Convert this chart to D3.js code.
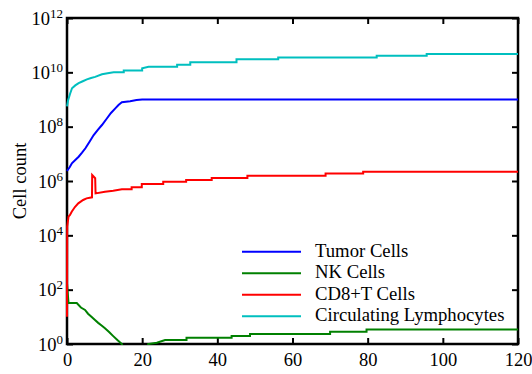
<!DOCTYPE html>
<html>
<head>
<meta charset="utf-8">
<script src="https://cdn.jsdelivr.net/npm/d3@7"></script>
<style>
  body { margin: 0; background: #fff; }
  svg text { font-family: "Liberation Serif", "Times New Roman", serif; fill: #000; }
</style>
</head>
<body>
<svg id="chart" width="532" height="374" font-family="Liberation Serif, serif"></svg>
<script>
// time in days, values in cells
const tumorTimes = [0, 0.7, 1.3, 2.2, 3.1, 4.0, 4.9, 6.0, 7.1, 8.2, 9.3, 10.6, 11.7, 12.85, 13.7, 14.6, 16.8, 18.5, 20, 120];
const tumorCells = [2.34e6, 3.2e6, 4.5e6, 5.9e6, 7.8e6, 1.1e7, 1.6e7, 2.8e7, 4.9e7, 7.6e7, 1.15e8, 2.0e8, 3.2e8, 4.7e8, 6.3e8, 7.9e8, 8.7e8, 9.5e8, 1.0e9, 1.0e9];

const nkTimes = [0, 0.4, 2.6, 3.7, 4.8, 5.6, 6.5, 7.45, 8.3, 9.2, 10.1, 11.2, 12.3, 13.4, 14.6, 15.2, 21.6, 23.9, 26.1, 31.8, 43.8, 48.7, 70, 79.7, 120];
const nkCells = [170, 32, 32, 22, 18, 13, 10, 7.6, 6, 4.8, 3.8, 2.75, 1.95, 1.4, 1.0, 0.5, 1.0, 1.12, 1.4, 1.7, 1.95, 2.35, 2.8, 3.4, 3.4];

const cd8Times = [0, 0.05, 0.4, 0.8, 1.25, 2.1, 3.0, 4.3, 5.2, 6.65, 6.7, 7.5, 7.6, 10.1, 12.3, 14.6, 17.2, 19.9, 25.6, 31.7, 38.5, 48, 68.8, 78.8, 120];
const cd8Cells = [10, 2.1e4, 4.9e4, 5.6e4, 7.4e4, 1.1e5, 1.5e5, 2.0e5, 2.3e5, 2.5e5, 1.66e6, 1.26e6, 3.5e5, 4.0e5, 4.4e5, 5.0e5, 5.9e5, 7.8e5, 9.3e5, 1.1e6, 1.3e6, 1.55e6, 1.9e6, 2.2e6, 2.2e6];

const lymphTimes = [0, 0.3, 0.8, 1.33, 2.2, 3.1, 4.2, 5.3, 6.4, 7.5, 9.3, 10.8, 12.4, 15.1, 20, 21.7, 29.3, 32.8, 45.1, 56.2, 82.4, 95.7, 120];
const lymphCells = [5.6e8, 9.5e8, 1.6e9, 2.6e9, 3.3e9, 4.0e9, 4.7e9, 5.5e9, 6.2e9, 6.8e9, 8.5e9, 9.3e9, 1.0e10, 1.17e10, 1.4e10, 1.6e10, 1.9e10, 2.35e10, 3.0e10, 3.5e10, 4.1e10, 4.7e10, 4.7e10];

const seriesNames = ["Tumor Cells", "NK Cells", "CD8+T Cells", "Circulating Lymphocytes"];
const seriesColors = ["#0000ff", "#008000", "#ff0000", "#00bfbf"];

const xTicks = [0, 20, 40, 60, 80, 100, 120];
const yExponents = [0, 2, 4, 6, 8, 10, 12];

const margin = { left: 67, right: 518, top: 18, bottom: 344 };
const serif = "Liberation Serif, Times New Roman, serif";

const svg = d3.select("#chart");

const x = d3.scaleLinear().domain([0, 120]).range([margin.left, margin.right]);
const y = d3.scaleLog().domain([1, 1e12]).range([margin.bottom, margin.top]);

const series = [
  { times: tumorTimes, cells: tumorCells },
  { times: nkTimes, cells: nkCells },
  { times: cd8Times, cells: cd8Cells },
  { times: lymphTimes, cells: lymphCells }
].map((s, i) => ({
  name: seriesNames[i],
  color: seriesColors[i],
  points: s.times.map((t, j) => [t, s.cells[j]])
}));

// axes (ticks point inward)
const yTickValues = yExponents.map(e => Math.pow(10, e));

svg.append("g")
  .attr("transform", `translate(0,${margin.bottom})`)
  .call(d3.axisBottom(x).tickValues(xTicks).tickSize(-6).tickSizeOuter(0).tickPadding(9))
  .attr("font-family", serif)
  .call(g => g.select(".domain").remove())
  .call(g => g.selectAll("line").attr("stroke-width", 2))
  .call(g => g.selectAll("text").attr("font-size", 18.5).attr("dy", "0.71em"));

svg.append("g")
  .attr("transform", `translate(0,${margin.top})`)
  .call(d3.axisTop(x).tickValues(xTicks).tickSize(-6).tickSizeOuter(0).tickFormat(""))
  .call(g => g.select(".domain").remove())
  .call(g => g.selectAll("line").attr("stroke-width", 2));

svg.append("g")
  .attr("transform", `translate(${margin.right},0)`)
  .call(d3.axisRight(y).tickValues(yTickValues).tickSize(-6).tickSizeOuter(0).tickFormat(""))
  .call(g => g.select(".domain").remove())
  .call(g => g.selectAll("line").attr("stroke-width", 2));

const yAxis = svg.append("g")
  .attr("transform", `translate(${margin.left},0)`)
  .call(d3.axisLeft(y).tickValues(yTickValues).tickSize(-6).tickSizeOuter(0).tickPadding(4).tickFormat(""))
  .attr("font-family", serif)
  .call(g => g.select(".domain").remove())
  .call(g => g.selectAll("line").attr("stroke-width", 2));

yAxis.selectAll(".tick text")
  .attr("dy", 6)
  .attr("font-size", 18.5)
  .each(function(d) {
    const t = d3.select(this);
    t.append("tspan").text("10");
    t.append("tspan")
      .attr("font-size", 13)
      .attr("dy", -7)
      .text(Math.round(Math.log10(d)));
  });

// frame
svg.append("rect")
  .attr("x", margin.left)
  .attr("y", margin.top)
  .attr("width", margin.right - margin.left)
  .attr("height", margin.bottom - margin.top)
  .attr("fill", "none")
  .attr("stroke", "#000")
  .attr("stroke-width", 2.5);

// lines: short intervals joined directly, long ones held flat then stepped
function stepPath(points) {
  let p = "M" + x(points[0][0]) + "," + y(points[0][1]);
  for (let i = 1; i < points.length; i++) {
    const [t0, v0] = points[i - 1];
    const [t1, v1] = points[i];
    if (t1 - t0 > 2.5) p += "L" + x(t1) + "," + y(v0);
    p += "L" + x(t1) + "," + y(v1);
  }
  return p;
}

svg.append("clipPath").attr("id", "plot-clip")
  .append("rect")
  .attr("x", margin.left - 2)
  .attr("y", margin.top - 1)
  .attr("width", margin.right - margin.left + 3)
  .attr("height", margin.bottom - margin.top + 2);

svg.append("g")
  .attr("clip-path", "url(#plot-clip)")
  .selectAll("path")
  .data(series)
  .join("path")
  .attr("d", d => stepPath(d.points))
  .attr("fill", "none")
  .attr("stroke", d => d.color)
  .attr("stroke-width", 2)
  .attr("stroke-linejoin", "miter");

// y label
svg.append("text")
  .attr("transform", `translate(26,${(margin.top + margin.bottom) / 2}) rotate(-90)`)
  .attr("text-anchor", "middle")
  .attr("font-size", 18.5)
  .text("Cell count");

// legend
const legend = svg.append("g")
  .selectAll("g")
  .data(series)
  .join("g")
  .attr("transform", (d, i) => `translate(242,${251.7 + i * 21.5})`);

legend.append("line")
  .attr("x1", 0).attr("x2", 59)
  .attr("stroke", d => d.color)
  .attr("stroke-width", 2);

legend.append("text")
  .attr("x", 73)
  .attr("y", 5)
  .attr("font-size", 18.7)
  .text(d => d.name);
</script>
</body>
</html>
